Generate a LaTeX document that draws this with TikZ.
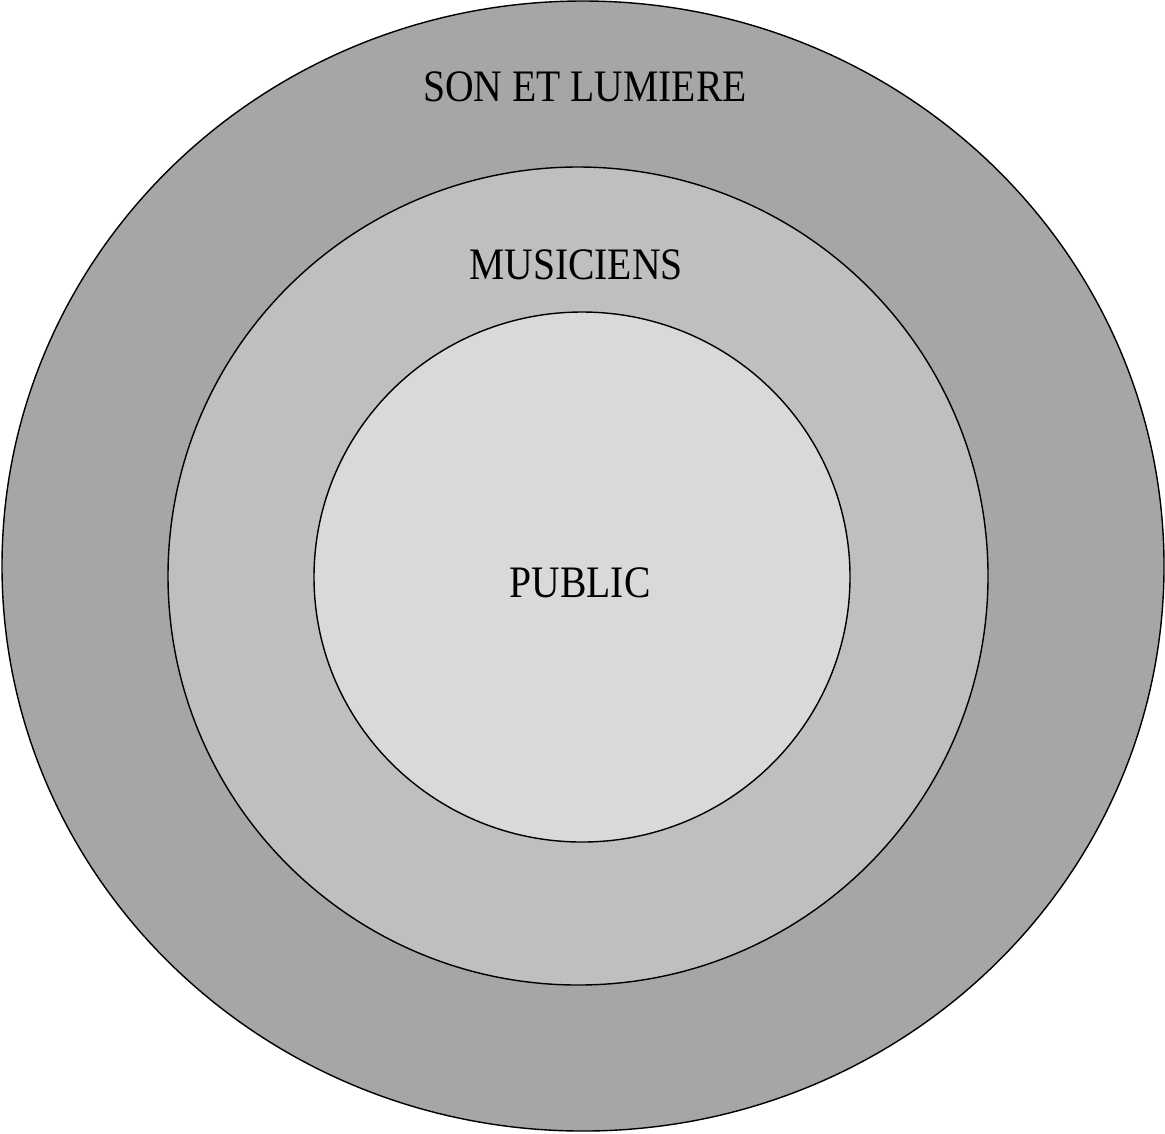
\documentclass[tikz,border=0pt]{standalone}
\usepackage{fontspec}
\setmainfont{Liberation Serif}
\usetikzlibrary{positioning}

\begin{document}
\begin{tikzpicture}[x=0.01cm, y=-0.01cm]
	\tikzset{
		ring/.style={draw=black, line width=0.4pt},
		label/.style={inner sep=0pt, xscale=0.88, font=\fontsize{12.8}{15}\selectfont}
	}
	\useasboundingbox (0,0) rectangle (1165,1133);
	
	% anneau exterieur
	\filldraw[ring, fill={rgb,255:red,166;green,166;blue,166}] (583,566) ellipse [x radius=581, y radius=565];
	% anneau du milieu
	\filldraw[ring, fill={rgb,255:red,191;green,191;blue,191}] (578,576) ellipse [x radius=410, y radius=409];
	% cercle interieur
	\filldraw[ring, fill={rgb,255:red,217;green,217;blue,217}] (582,577) ellipse [x radius=268, y radius=265];
	
	\node[label] (son) at (585,87) {SON ET LUMIERE};
	\node[label] (musiciens) at (576,265) {MUSICIENS};
	\node[label] (public) at (580,583) {PUBLIC};
\end{tikzpicture}
\end{document}
